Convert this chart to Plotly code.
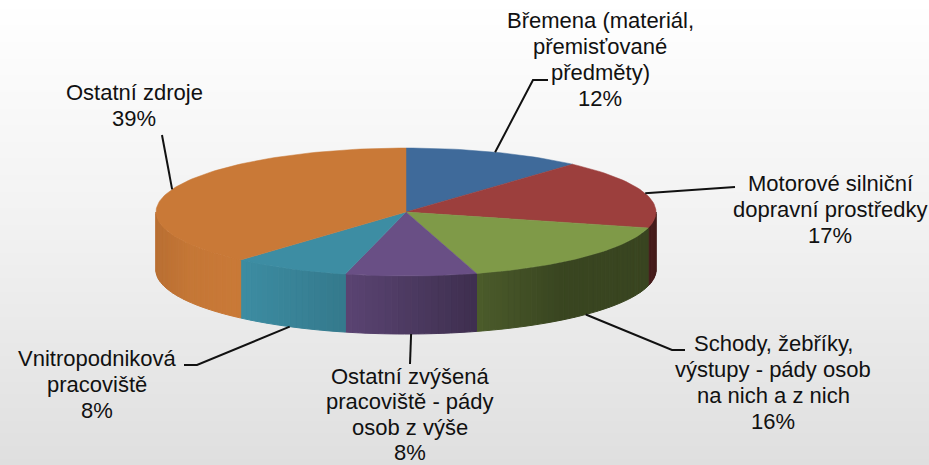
import math
import plotly.graph_objects as go

# Data
labels = [
    ["Břemena (materiál,", "přemisťované", "předměty)"],
    ["Motorové silniční", "dopravní prostředky"],
    ["Schody, žebříky,", "výstupy - pády osob", "na nich a z nich"],
    ["Ostatní zvýšená", "pracoviště - pády", "osob z výše"],
    ["Vnitropodniková", "pracoviště"],
    ["Ostatní zdroje"],
]
values = [11.6, 17.4, 16.45, 8.45, 7.6, 38.5]
shown_percent = [12, 17, 16, 8, 8, 39]
colors = ["#3F6A9A", "#9C3F3D", "#7F9A48", "#694F85", "#3D8DA3", "#C97937"]

# Pie geometry (pixel space of the page)
W, H = 929, 465
CX, CY, RX, RY, DEPTH = 406, 212, 250, 64, 58
label_pos = [(600, 20), (830, 183), (773, 343), (410, 376), (97, 358), (134, 92)]
line_step = [26.2, 26.2, 26.2, 25.6, 26.2, 26.2]
leader_mid = [[(533, 80), (548, 80)], [(735, 187)], [(672, 350), (685, 350)],
              [(410, 364)], [(197, 365), (184, 365)], [(162, 135)]]

def pt(deg, dy=0):
    a = math.radians(deg)
    return CX + RX * math.sin(a), CY - RY * math.cos(a) + dy

def rgb(hexs, f):
    r, g, b = (int(hexs[i:i + 2], 16) for i in (1, 3, 5))
    return f"rgb({min(255, round(r * f))},{min(255, round(g * f))},{min(255, round(b * f))})"

# side-wall shading as a function of x
shade_x = [156, 190, 235, 345, 473, 560, 660]
shade_f = [0.92, 0.98, 1.0, 0.86, 0.60, 0.45, 0.45]
def shade(x):
    for i in range(len(shade_x) - 1):
        if x <= shade_x[i + 1]:
            t = (x - shade_x[i]) / (shade_x[i + 1] - shade_x[i])
            return shade_f[i] + t * (shade_f[i + 1] - shade_f[i])
    return shade_f[-1]

fig = go.Figure()

# background gradient
fig.add_trace(go.Heatmap(
    x=[0, W], y=[i * H / 40 for i in range(41)],
    z=[[i / 40, i / 40] for i in range(41)],
    colorscale=[[0, "#FFFFFF"], [0.5, "#F1F1F1"], [1, "#DFDFDF"]],
    zmin=0, zmax=1, showscale=False, hoverinfo="skip", zsmooth="best",
))

total = sum(values)
edges = [0]
for v in values:
    edges.append(edges[-1] + v / total * 360)

# side walls
for i, c in enumerate(colors):
    a0, a1 = max(edges[i], 90), min(edges[i + 1], 270)
    if a1 <= a0:
        continue
    n = max(1, int((a1 - a0) / 1.5))
    for k in range(n):
        s, e = a0 + (a1 - a0) * k / n, a0 + (a1 - a0) * (k + 1) / n
        p = [pt(s), pt(e), pt(e, DEPTH), pt(s, DEPTH), pt(s)]
        col = rgb(c, shade((p[0][0] + p[1][0]) / 2))
        fig.add_trace(go.Scatter(x=[q[0] for q in p], y=[q[1] for q in p], mode="lines",
                                 fill="toself", fillcolor=col, line=dict(color=col, width=1),
                                 hoverinfo="skip", showlegend=False))

# top faces
for i, c in enumerate(colors):
    n = max(2, int((edges[i + 1] - edges[i]) / 1.5))
    p = [(CX, CY)] + [pt(edges[i] + (edges[i + 1] - edges[i]) * k / n) for k in range(n + 1)] + [(CX, CY)]
    fig.add_trace(go.Scatter(x=[q[0] for q in p], y=[q[1] for q in p], mode="lines",
                             fill="toself", fillcolor=c, line=dict(color=c, width=0.5),
                             hoverinfo="skip", showlegend=False))

# leader lines and labels
for i in range(len(values)):
    mid = (edges[i] + edges[i + 1]) / 2
    start = pt(mid, DEPTH if 90 < mid < 270 else 0)
    path = [start] + leader_mid[i]
    fig.add_trace(go.Scatter(x=[q[0] for q in path], y=[q[1] for q in path], mode="lines",
                             line=dict(color="#111111", width=2), hoverinfo="skip", showlegend=False))

annotations = []
for i, lines in enumerate(labels):
    cx, y0 = label_pos[i]
    for j, t in enumerate(lines + [f"{shown_percent[i]}%"]):
        annotations.append(dict(x=cx, y=y0 + j * line_step[i], text=t, showarrow=False,
                                xanchor="center", yanchor="middle",
                                font=dict(family="Liberation Sans", size=22, color="#111111")))

fig.update_layout(
    width=W, height=H, margin=dict(l=0, r=0, t=0, b=0),
    paper_bgcolor="#F0F0F0", plot_bgcolor="rgba(0,0,0,0)",
    xaxis=dict(range=[0, W], visible=False, fixedrange=True),
    yaxis=dict(range=[H, 0], visible=False, fixedrange=True),
    annotations=annotations, showlegend=False,
)
fig.write_html("out.html", config={"displayModeBar": False},
               post_script="document.body.style.margin='0';document.body.style.overflow='hidden';")
